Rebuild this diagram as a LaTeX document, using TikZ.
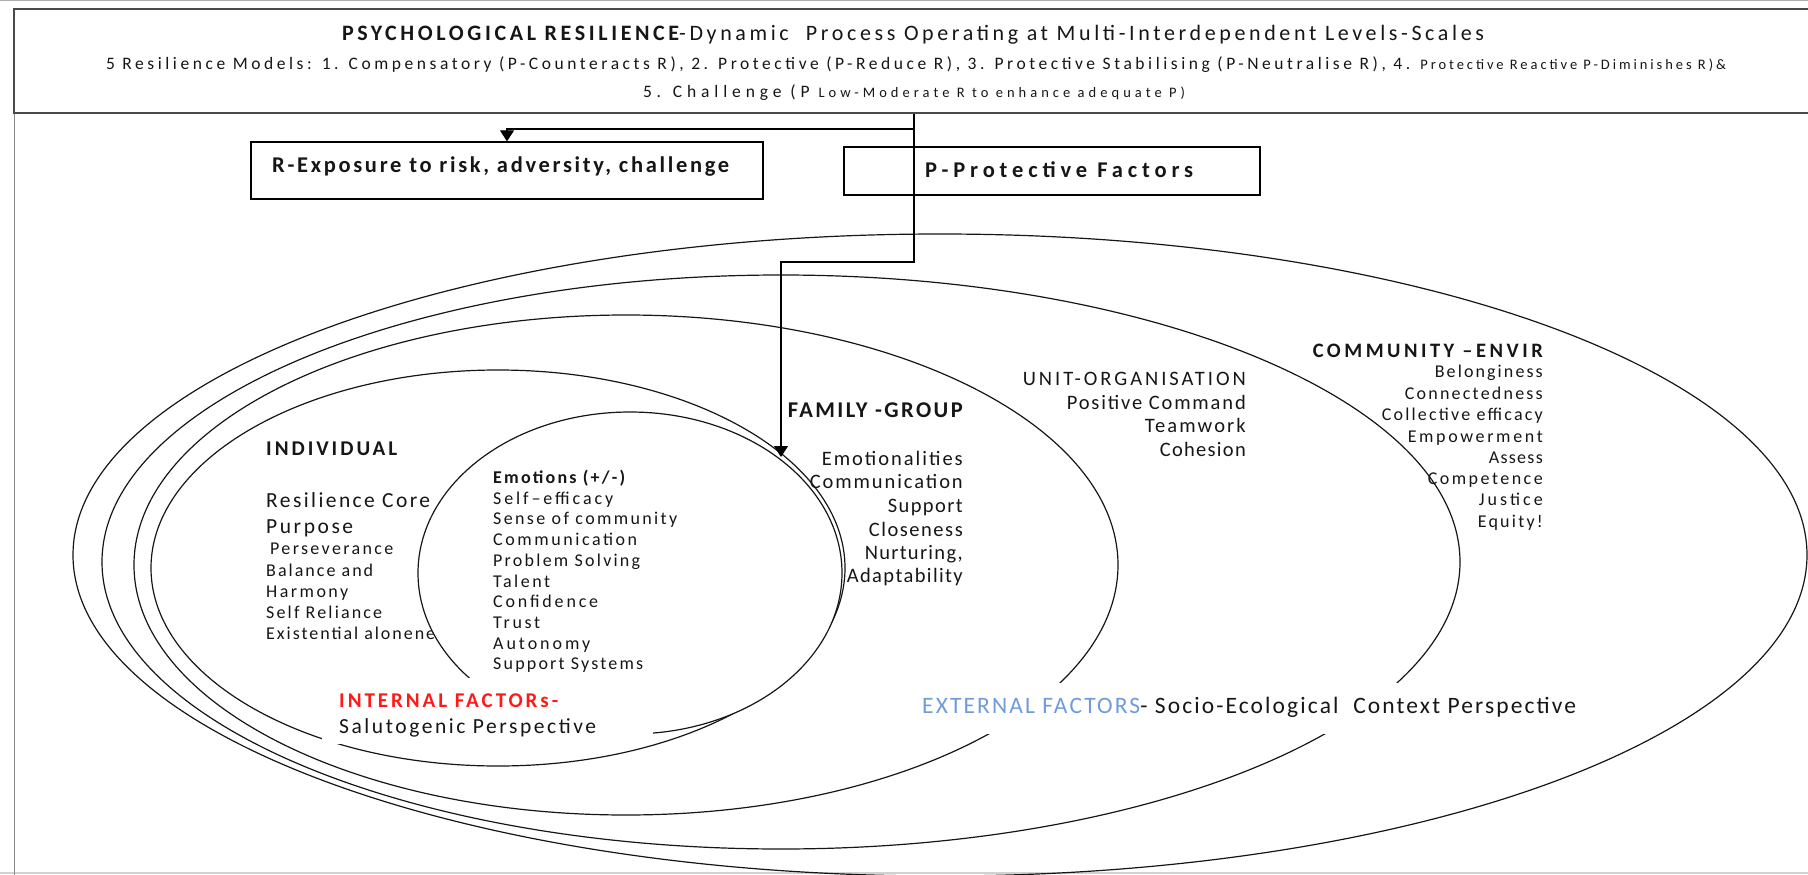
\documentclass[tikz,border=0pt]{standalone}
\usepackage{fontspec}
\setmainfont{Carlito}
\usetikzlibrary{arrows.meta}

\definecolor{ink}{HTML}{161616}
\definecolor{framegray}{HTML}{8A8A8A}
\definecolor{boxgray}{HTML}{4A4A4A}
\definecolor{intred}{HTML}{FF1A1A}
\definecolor{extblue}{HTML}{6F9BDB}

% set #2 with letter spacing chosen so that it is #1 pt wide
\newcommand\fitto[2]{%
  \begingroup
  \setbox0=\hbox{#2}%
  \setbox2=\hbox{\addfontfeatures{LetterSpace=10}#2}%
  \pgfmathsetmacro\fitls{10*(#1-\the\wd0)/(\the\wd2-\the\wd0)}%
  \addfontfeatures{LetterSpace=\fitls}#2%
  \endgroup}

\begin{document}
\begin{tikzpicture}[x=1pt,y=-1pt,
  ring/.style={draw=ink, line width=1.2pt},
  conn/.style={draw=black, line width=1.2pt},
  tip/.style={-{Triangle[length=11pt,width=14pt]}},
  boxed/.style={draw=black, line width=1.3pt, fill=white, inner sep=0pt},
  cover/.style={fill=white, inner sep=0pt, anchor=north west},
  txt/.style={inner sep=0pt, text=ink},
  lw/.style={txt, anchor=base west},
  le/.style={txt, anchor=base east},
  big/.style={font=\fontsize{21.5pt}{25pt}\selectfont},
  bigb/.style={font=\bfseries\fontsize{21pt}{25pt}\selectfont},
  small/.style={font=\fontsize{18pt}{21pt}\selectfont},
  smallb/.style={font=\bfseries\fontsize{18pt}{21pt}\selectfont},
  mid/.style={font=\fontsize{20.5pt}{24pt}\selectfont}
]
\useasboundingbox (0,0) rectangle (1808,875);

% page frame
\draw[framegray!70, line width=1pt] (0,1) -- (1808,1);
\draw[gray!35, line width=2pt] (0,873) -- (1808,873);
\draw[framegray, line width=1pt] (14,9) -- (14,875);

% nested levels: community, unit, family, individual
\draw[ring] (940,555) ellipse [x radius=867pt, y radius=321pt];
\draw[ring] (781,562) ellipse [x radius=679pt, y radius=287pt];
\draw[ring] (626,565) ellipse [x radius=492pt, y radius=250pt];
\draw[ring] (498,568) ellipse [x radius=347pt, y radius=198pt];

% individual level
\node[lw, bigb] (indiv) at (266,455) {\fitto{131}{INDIVIDUAL}};
\node[lw, big] (core) at (266,507) {\fitto{164}{Resilience Core}};
\node[lw, big] (purpose) at (266,533) {\fitto{87}{Purpose}};
\node[lw, small] (persev) at (270,554) {\fitto{123}{Perseverance}};
\node[lw, small] (balance) at (266,576) {\fitto{107}{Balance and}};
\node[lw, small] (harmony) at (266,597) {\fitto{82}{Harmony}};
\node[lw, small] (selfrel) at (266,618) {\fitto{116}{Self Reliance}};
\node[lw, small] (exist) at (266,639) {\fitto{169}{Existential alonene}};

% inner core
\filldraw[ring, fill=white] (630,573) ellipse [x radius=212pt, y radius=161pt];
\node[lw, smallb] (emo) at (493,483) {\fitto{132}{Emotions (+/-)}};
\node[lw, small] (eff) at (493,504) {\fitto{120}{Self–efficacy}};
\node[lw, small] (sense) at (493,524.5) {\fitto{184}{Sense of community}};
\node[lw, small] (comm) at (493,545.5) {\fitto{144}{Communication}};
\node[lw, small] (probl) at (493,566) {\fitto{147}{Problem Solving}};
\node[lw, small] (talent) at (493,587) {\fitto{57}{Talent}};
\node[lw, small] (conf) at (493,607.5) {\fitto{105}{Confidence}};
\node[lw, small] (trust) at (493,628) {\fitto{47}{Trust}};
\node[lw, small] (auton) at (493,649) {\fitto{97}{Autonomy}};
\node[lw, small] (suppsys) at (493,669.5) {\fitto{150}{Support Systems}};

% family level
\node[le, font=\bfseries\fontsize{22.5pt}{26pt}\selectfont] (family) at (963,417) {\fitto{175}{FAMILY -GROUP}};
\node[le, mid] (femo) at (963,465) {\fitto{141}{Emotionalities}};
\node[le, mid] (fcomm) at (963,488) {\fitto{153}{Communication}};
\node[le, mid] (fsupp) at (963,512) {\fitto{75}{Support}};
\node[le, mid] (fclose) at (963,536) {\fitto{94}{Closeness}};
\node[le, mid] (fnurt) at (963,559) {\fitto{98}{Nurturing,}};
\node[le, mid] (fadapt) at (963,582) {\fitto{116}{Adaptability}};

% unit level
\node[le, mid] (unit) at (1246,385.5) {\fitto{223}{UNIT-ORGANISATION}};
\node[le, mid] (ucmd) at (1246,409) {\fitto{179}{Positive Command}};
\node[le, mid] (uteam) at (1246,432.5) {\fitto{101}{Teamwork}};
\node[le, mid] (ucoh) at (1246,456) {\fitto{86}{Cohesion}};

% community level
\node[le, font=\bfseries\fontsize{20.5pt}{24pt}\selectfont] (commun) at (1543,357) {\fitto{230}{COMMUNITY –ENVIR}};
\node[le, small] (cbel) at (1543,377) {\fitto{108}{Belonginess}};
\node[le, small] (ccon) at (1543,399) {\fitto{138}{Connectedness}};
\node[le, small] (ccol) at (1543,420.5) {\fitto{161}{Collective efficacy}};
\node[le, small] (cemp) at (1543,442) {\fitto{135}{Empowerment}};
\node[le, small] (cass) at (1543,463) {\fitto{54}{Assess}};
\node[le, small] (ccomp) at (1543,484) {\fitto{115}{Competence}};
\node[le, small] (cjus) at (1543,505.5) {\fitto{64}{Justice}};
\node[le, small] (cequ) at (1543,527) {\fitto{65}{Equity!}};

% factor captions, set on white
\node[cover, minimum width=331pt, minimum height=66pt] (intbox) at (322,678) {};
\node[lw, font=\bfseries\fontsize{21pt}{25pt}\selectfont, text=intred] (intf) at (339,707) {\fitto{219}{INTERNAL FACTORs-}};
\node[lw, big] (saluto) at (339,733) {\fitto{257}{Salutogenic Perspective}};
\node[cover, minimum width=685pt, minimum height=51pt] (extbox) at (905,683) {};
\node[lw, font=\fontsize{23.5pt}{27pt}\selectfont] (extf) at (922,713)
  {\fitto{654}{{\color{extblue}EXTERNAL FACTORS}- Socio-Ecological\ \ Context Perspective}};

% heading box
\node[draw=boxgray, line width=2pt, fill=white, inner sep=0pt,
      minimum width=1800pt, minimum height=104pt] (title) at (914,61) {};
\node[txt, anchor=base, font=\fontsize{22pt}{25pt}\selectfont] (head1) at (913,41)
  {\fitto{1142}{{\bfseries PSYCHOLOGICAL RESILIENCE}-Dynamic\ \ Process Operating at Multi-Interdependent Levels-Scales}};
\node[txt, anchor=base, font=\fontsize{17.5pt}{20pt}\selectfont] (head2) at (916,69.5)
  {\fitto{1620}{5 Resilience Models: 1. Compensatory (P-Counteracts R), 2. Protective (P-Reduce R), 3. Protective Stabilising (P-Neutralise R), 4. {\fontsize{14.5pt}{17pt}\selectfont Protective Reactive P-Diminishes R)\&}}};
\node[txt, anchor=base, font=\fontsize{17.5pt}{20pt}\selectfont] (head3) at (914,97.5)
  {\fitto{542}{5. Challenge (P {\fontsize{14.5pt}{17pt}\selectfont Low-Moderate R to enhance adequate P)}}};

% risk and protective boxes
\node[boxed, minimum width=512pt, minimum height=57pt] (rbox) at (507,170.5) {};
\node[lw, font=\bfseries\fontsize{22.5pt}{26pt}\selectfont] (rtext) at (272,172) {\fitto{457}{R-Exposure to risk, adversity, challenge}};
\node[boxed, minimum width=416pt, minimum height=48pt] (pbox) at (1052,171) {};
\node[lw, font=\bfseries\fontsize{22.5pt}{26pt}\selectfont] (ptext) at (925,177) {\fitto{268}{P-Protective Factors}};

% connectors
\coordinate (fork) at (914,129);
\coordinate (drop) at (914,262);
\coordinate (ringtip) at (781,457);
\draw[conn, tip] (title.south) -- (drop) -| (ringtip);
\draw[conn, tip] (fork) -| (rbox.north);
\end{tikzpicture}
\end{document}
